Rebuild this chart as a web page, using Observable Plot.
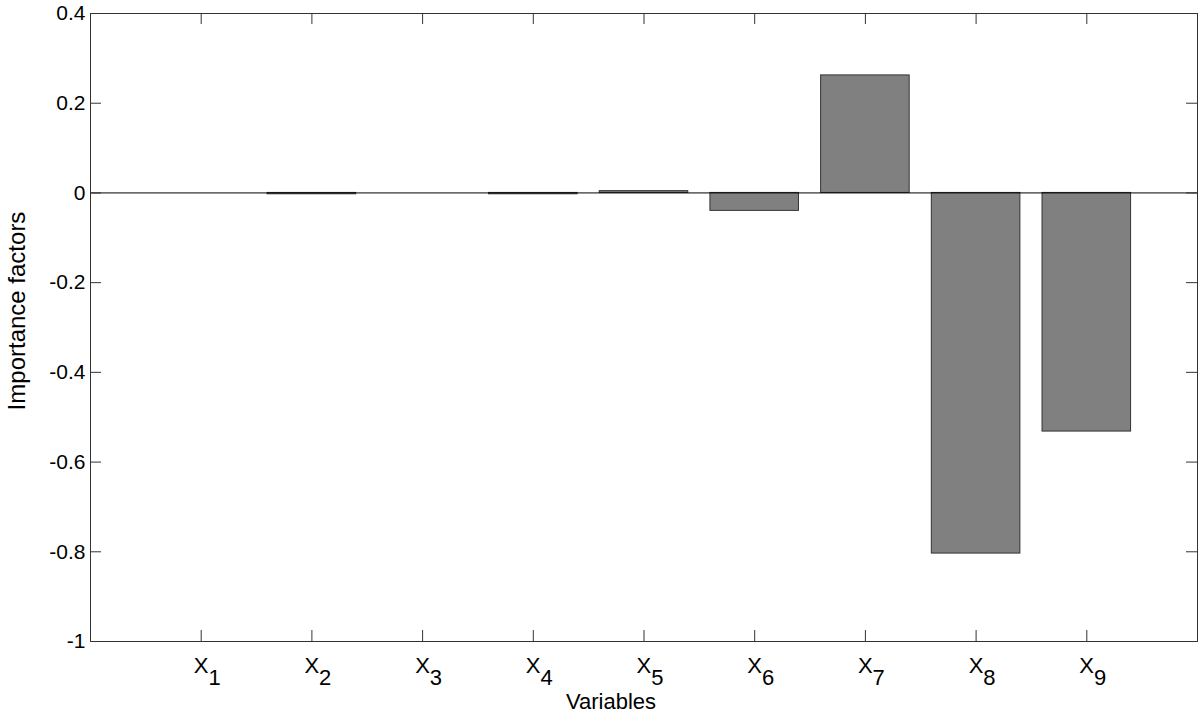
<!DOCTYPE html>
<html>
<head>
<meta charset="utf-8">
<script src="https://cdn.jsdelivr.net/npm/d3@7"></script>
<script src="https://cdn.jsdelivr.net/npm/@observablehq/plot@0.6"></script>
<style>
  html, body { margin: 0; padding: 0; background: #fff; }
  #chart svg { display: block; }
</style>
</head>
<body>
<div id="chart"></div>
<script>
// Data
const variables = [1, 2, 3, 4, 5, 6, 7, 8, 9];
const importance = [0.0, -0.003, 0.0, -0.003, 0.004, -0.040, 0.262, -0.804, -0.532];
const yTicks = [-1, -0.8, -0.6, -0.4, -0.2, 0, 0.2, 0.4];
const xTickNames = ["X", "X", "X", "X", "X", "X", "X", "X", "X"];
const xTickSubs = ["1", "2", "3", "4", "5", "6", "7", "8", "9"];
const xTitle = "Variables";
const yTitle = "Importance factors";

const data = variables.map((v, i) => ({x: v, value: importance[i]}));

const W = 1198, H = 713;
const mL = 90, mR = 1, mT = 13, mB = 72;
const plotW = W - mL - mR, plotH = H - mT - mB;
const tickLen = 11;
const font = "'Liberation Sans', Arial, Helvetica, sans-serif";

const chart = Plot.plot({
  width: W,
  height: H,
  marginLeft: mL,
  marginRight: mR,
  marginTop: mT,
  marginBottom: mB,
  style: {fontFamily: font, background: "#fff", color: "#000"},
  x: {type: "linear", domain: [0, 10], axis: null},
  y: {domain: [-1, 0.4], axis: null},
  marks: [
    Plot.rectY(data, {
      x1: d => d.x - 0.4,
      x2: d => d.x + 0.4,
      y: "value",
      fill: "#808080",
      stroke: "#333",
      strokeWidth: 1
    }),
    Plot.ruleY([0], {stroke: "#000", strokeWidth: 1}),
    // inward ticks: left & right
    Plot.tickY(yTicks, {y: d => d, insetRight: plotW - tickLen, stroke: "#333"}),
    Plot.tickY(yTicks, {y: d => d, insetLeft: plotW - tickLen, stroke: "#333"}),
    // inward ticks: bottom & top
    Plot.tickX(variables, {x: d => d, insetTop: plotH - tickLen, stroke: "#333"}),
    Plot.tickX(variables, {x: d => d, insetBottom: plotH - tickLen, stroke: "#333"}),
    Plot.axisY(yTicks, {
      tickSize: 0,
      tickPadding: 5,
      fontSize: 21,
      label: null,
      tickFormat: d => String(+d.toFixed(1))
    }),
    Plot.axisX(variables, {
      tickSize: 0,
      tickPadding: 16,
      fontSize: 22,
      label: null,
      tickFormat: d => xTickNames[d - 1] + xTickSubs[d - 1]
    }),
    Plot.frame({stroke: "#333", strokeWidth: 1})
  ]
});

document.getElementById("chart").appendChild(chart);

// Turn x tick labels into X with subscript
const svg = d3.select(chart);
svg.selectAll("g[aria-label='x-axis tick label'] text").each(function(d, i) {
  const t = d3.select(this);
  const idx = variables[i] - 1;
  t.text(null);
  t.attr("dx", 6);
  t.append("tspan").text(xTickNames[idx]);
  t.append("tspan").attr("dy", 12).text(xTickSubs[idx]);
});

// Axis titles
svg.append("text")
  .attr("x", 611)
  .attr("y", 709)
  .attr("text-anchor", "middle")
  .attr("font-family", font)
  .attr("font-size", 22)
  .attr("fill", "#000")
  .text(xTitle);

svg.append("text")
  .attr("transform", `translate(25,311) rotate(-90)`)
  .attr("text-anchor", "middle")
  .attr("font-family", font)
  .attr("font-size", 24)
  .attr("fill", "#000")
  .text(yTitle);
</script>
</body>
</html>
